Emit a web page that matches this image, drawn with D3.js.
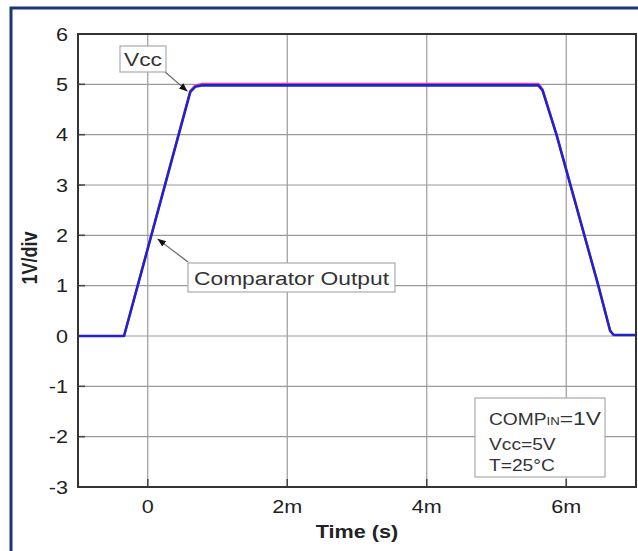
<!DOCTYPE html>
<html>
<head>
<meta charset="utf-8">
<style>
  body { margin: 0; background: #fff; }
  svg { display: block; font-family: 'Liberation Sans', Arial, sans-serif; }
</style>
</head>
<body>
<svg width="638" height="551"></svg>
<script src="https://d3js.org/d3.v7.min.js"></script>
<script>
// time in ms, volts
const timeMs = [-1, -0.34, 0.61, 0.68, 0.78, 5.6, 5.66, 5.86, 6.46, 6.63, 6.68, 7];
const compVolts = [0, 0, 4.85, 4.95, 4.98, 4.98, 4.88, 4.0, 1.0, 0.1, 0.02, 0.02];
const vccVolts  = [0, 0, 4.87, 4.97, 5.01, 5.01, 4.9, 4.0, 1.0, 0.1, 0.02, 0.02];
const xTicks = [0, 2, 4, 6];
const xTickLabels = ["0", "2m", "4m", "6m"];
const yTicks = [-3, -2, -1, 0, 1, 2, 3, 4, 5, 6];

const svg = d3.select("svg");
const SX = 1.2; // source image text looks horizontally stretched

// outer frame
svg.append("rect")
  .attr("x", 11).attr("y", 8).attr("width", 640).attr("height", 560)
  .attr("fill", "none").attr("stroke", "#1c3678").attr("stroke-width", 3);

const margin = { left: 78, top: 34, right: 636, bottom: 487 };
const x = d3.scaleLinear().domain([-1, 7]).range([margin.left, margin.right]);
const y = d3.scaleLinear().domain([-3, 6]).range([margin.bottom, margin.top]);

// grid
svg.append("g").selectAll("line").data(xTicks).join("line")
  .attr("x1", d => x(d)).attr("x2", d => x(d))
  .attr("y1", margin.top).attr("y2", margin.bottom)
  .attr("stroke", "#9a9a9a").attr("stroke-width", 1.2);
svg.append("g").selectAll("line").data(yTicks).join("line")
  .attr("x1", margin.left).attr("x2", margin.right)
  .attr("y1", d => y(d)).attr("y2", d => y(d))
  .attr("stroke", "#9a9a9a").attr("stroke-width", 1.2);

// inner ticks
svg.append("g").selectAll("line").data(yTicks).join("line")
  .attr("x1", margin.left).attr("x2", margin.left + 7)
  .attr("y1", d => y(d)).attr("y2", d => y(d))
  .attr("stroke", "#444").attr("stroke-width", 1.5);
svg.append("g").selectAll("line").data(xTicks).join("line")
  .attr("x1", d => x(d)).attr("x2", d => x(d))
  .attr("y1", margin.bottom).attr("y2", margin.bottom - 8)
  .attr("stroke", "#444").attr("stroke-width", 1.5);

// tick labels
svg.append("g").selectAll("text").data(yTicks).join("text")
  .attr("transform", d => `translate(68,${y(d) + 6.5}) scale(${SX},1)`)
  .attr("text-anchor", "end").attr("font-size", 18).attr("fill", "#222")
  .text(d => d);
svg.append("g").selectAll("text").data(xTicks).join("text")
  .attr("transform", d => `translate(${x(d)},513) scale(${SX},1)`)
  .attr("text-anchor", "middle").attr("font-size", 18).attr("fill", "#222")
  .text((d, i) => xTickLabels[i]);

// axis titles
svg.append("text")
  .attr("transform", `translate(357,538) scale(${SX},1)`).attr("text-anchor", "middle")
  .attr("font-size", 18).attr("font-weight", "bold").attr("fill", "#222")
  .text("Time (s)");
svg.append("text")
  .attr("transform", "translate(37,258) rotate(-90) scale(1,1.2)").attr("text-anchor", "middle")
  .attr("font-size", 18).attr("font-weight", "bold").attr("fill", "#222")
  .text("1V/div");

// traces
const line = d3.line().x(d => x(d[0])).y(d => y(d[1]));
svg.append("path")
  .attr("d", line(timeMs.map((t, i) => [t, vccVolts[i]])))
  .attr("fill", "none").attr("stroke", "#e0409a").attr("stroke-width", 2.2);
svg.append("path")
  .attr("d", line(timeMs.map((t, i) => [t, compVolts[i]])))
  .attr("fill", "none").attr("stroke", "#2222cc").attr("stroke-width", 2.6)
  .attr("stroke-linejoin", "round");

// plot frame
svg.append("rect")
  .attr("x", margin.left).attr("y", margin.top)
  .attr("width", margin.right - margin.left).attr("height", margin.bottom - margin.top)
  .attr("fill", "none").attr("stroke", "#333").attr("stroke-width", 2);

// arrow marker
svg.append("defs").append("marker")
  .attr("id", "arr").attr("viewBox", "0 0 10 10").attr("refX", 10).attr("refY", 5)
  .attr("markerWidth", 7).attr("markerHeight", 7).attr("orient", "auto")
  .append("path").attr("d", "M0,1 L10,5 L0,9 Z").attr("fill", "#111");

function callout(bx, by, bw, bh, label, fromX, fromY, tip) {
  svg.append("line")
    .attr("x1", fromX).attr("y1", fromY)
    .attr("x2", x(tip[0])).attr("y2", y(tip[1]))
    .attr("stroke", "#666").attr("stroke-width", 1.2).attr("marker-end", "url(#arr)");
  svg.append("rect").attr("x", bx).attr("y", by).attr("width", bw).attr("height", bh)
    .attr("fill", "#fff").attr("stroke", "#aaa").attr("stroke-width", 1.2);
  svg.append("text")
    .attr("transform", `translate(${bx + bw / 2},${by + bh / 2 + 7}) scale(${SX},1)`)
    .attr("text-anchor", "middle").attr("font-size", 19).attr("fill", "#333")
    .text(label);
}
callout(120, 46, 46, 26, "Vcc", 164, 71, [0.57, 4.86]);
callout(188, 263, 207, 29, "Comparator Output", 188, 262, [0.14, 1.93]);

// conditions box
svg.append("rect").attr("x", 475).attr("y", 398).attr("width", 130).attr("height", 79)
  .attr("fill", "#fff").attr("stroke", "#aaa").attr("stroke-width", 1.2);
const cond = svg.append("g").attr("fill", "#333").attr("font-size", 16);
const t1 = cond.append("text").attr("transform", `translate(489,425) scale(${SX},1)`);
t1.append("tspan").text("COMP");
t1.append("tspan").attr("font-size", 11).text("IN");
t1.append("tspan").attr("font-size", 19).text("=1V");
cond.append("text").attr("transform", `translate(489,450) scale(${SX},1)`).text("Vcc=5V");
cond.append("text").attr("transform", `translate(489,471) scale(${SX},1)`).text("T=25°C");
</script>
</body>
</html>
